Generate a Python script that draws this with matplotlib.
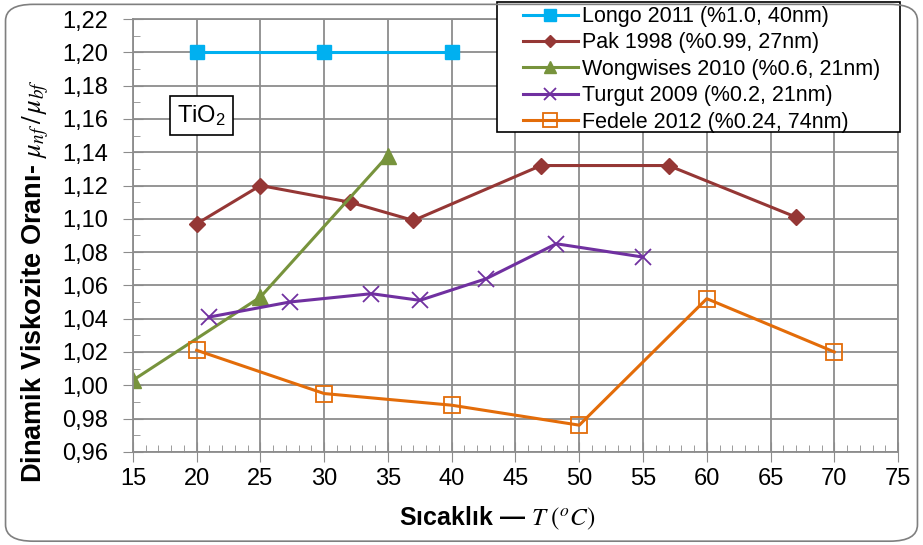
import matplotlib
matplotlib.use('Agg')
import matplotlib.pyplot as plt
from matplotlib.patches import FancyBboxPatch, Rectangle
from matplotlib.ticker import MultipleLocator, FuncFormatter

plt.rcParams['font.family'] = ['Liberation Sans', 'DejaVu Sans']
plt.rcParams['mathtext.fontset'] = 'stix'

# ── Data ──────────────────────────────────────────────────────────────────────
longo_t = [20, 30, 40]
longo_r = [1.200, 1.200, 1.200]

pak_t = [20, 25, 32, 37, 47, 57, 67]
pak_r = [1.097, 1.120, 1.110, 1.099, 1.132, 1.132, 1.101]

wong_t = [15, 25, 35]
wong_r = [1.003, 1.053, 1.138]

turgut_t = [21, 27.3, 33.7, 37.5, 42.7, 48.2, 55]
turgut_r = [1.041, 1.050, 1.055, 1.051, 1.064, 1.085, 1.077]

fedele_t = [20, 30, 40, 50, 60, 70]
fedele_r = [1.021, 0.995, 0.988, 0.976, 1.052, 1.020]

labels = ['Longo 2011 (%1.0, 40nm)', 'Pak 1998 (%0.99, 27nm)',
          'Wongwises 2010 (%0.6, 21nm)', 'Turgut 2009 (%0.2, 21nm)',
          'Fedele 2012 (%0.24, 74nm)']

# ── Figure ────────────────────────────────────────────────────────────────────
fig = plt.figure(figsize=(9.23, 5.45), dpi=100)
ax = fig.add_axes([0.144, 0.171, 0.829, 0.794])

fig.patches.append(FancyBboxPatch((0.006, 0.007), 0.988, 0.985,
                                  boxstyle='round,pad=0,rounding_size=0.03',
                                  transform=fig.transFigure, fill=False,
                                  edgecolor='#7f7f7f', linewidth=1.2))

lw = 2.2
ax.plot(longo_t, longo_r, color='#00B0F0', lw=lw, marker='s', ms=10, label=labels[0])
ax.plot(pak_t, pak_r, color='#953735', lw=lw, marker='D', ms=8, label=labels[1])
ax.plot(wong_t, wong_r, color='#77933C', lw=lw, marker='^', ms=11, label=labels[2])
ax.plot(turgut_t, turgut_r, color='#7030A0', lw=lw, marker='x', ms=11, mew=1.3,
        label=labels[3])
ax.plot(fedele_t, fedele_r, color='#E36C09', lw=lw, marker='s', ms=12, mfc='none',
        mew=1.3, label=labels[4])

ax.set_xlim(15, 75)
ax.set_ylim(0.96, 1.22)
ax.xaxis.set_major_locator(MultipleLocator(5))
ax.xaxis.set_minor_locator(MultipleLocator(1))
ax.yaxis.set_major_locator(MultipleLocator(0.02))
ax.yaxis.set_minor_locator(MultipleLocator(0.01))
ax.yaxis.set_major_formatter(FuncFormatter(lambda v, p: f'{v:.2f}'.replace('.', ',')))

ax.grid(True, which='major', color='#8c8c8c', linewidth=1.3)
ax.set_axisbelow(True)
for s in ax.spines.values():
    s.set_color('#8c8c8c')
    s.set_linewidth(1.3)
ax.tick_params(which='major', direction='inout', length=14, color='#8c8c8c',
               labelsize=17)
ax.tick_params(axis='y', which='major', pad=11)
ax.tick_params(axis='x', which='major', pad=5)
ax.tick_params(which='minor', direction='in', length=5, color='#8c8c8c')

ax.set_xlabel('Sıcaklık — $T\\ (^oC)$', fontsize=18, fontweight='bold', labelpad=10)
ax.xaxis.label.set_x(0.476)
ax.set_ylabel('Dinamik Viskozite Oranı- $\\mu_{nf}\\,/\\,\\mu_{bf}$', fontsize=19.5,
              fontweight='bold', labelpad=8)
ax.yaxis.label.set_y(0.395)

ax.text(20.4, 1.162, 'TiO$_\\mathregular{2}$', fontsize=17, ha='center', va='center',
        bbox=dict(boxstyle='square,pad=0.3', facecolor='white', edgecolor='black',
                  linewidth=1.2))

# legend box drawn separately (wider side padding than top/bottom)
ax.add_patch(Rectangle((0.4758, 0.739), 0.5268, 0.300, transform=ax.transAxes,
                       facecolor='white', edgecolor='black', linewidth=1.2,
                       clip_on=False, zorder=4.5))
leg = ax.legend(loc='upper left', bbox_to_anchor=(0.5098, 1.030), fontsize=15.5,
                frameon=False, handlelength=2.55, handletextpad=0.19,
                labelspacing=0.25, borderpad=0, borderaxespad=0, markerscale=0.8)

fig.savefig('out.png', dpi=100)
